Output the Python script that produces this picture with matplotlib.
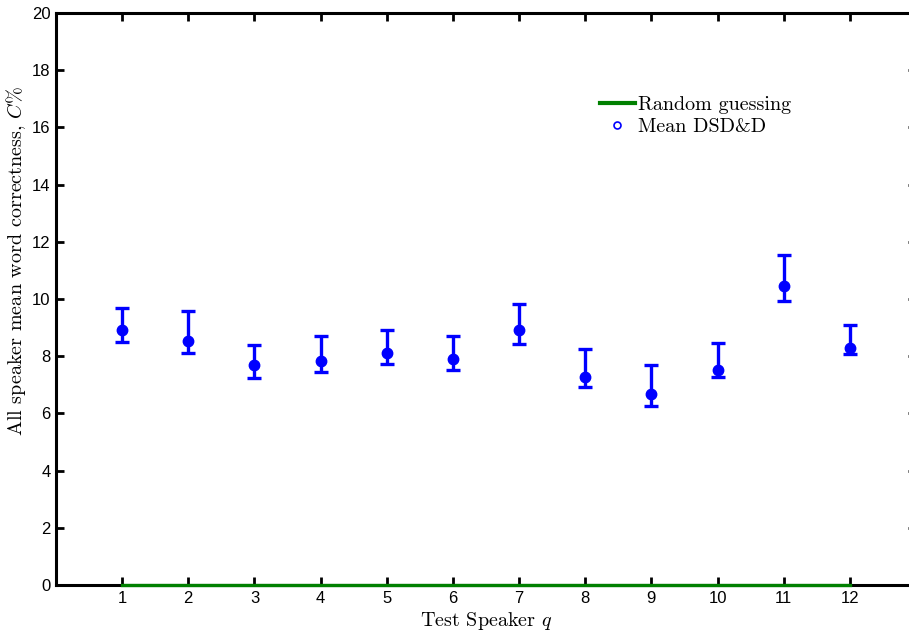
#!/usr/bin/env python3
"""Mean word correctness per test speaker, with error bars."""

import matplotlib

matplotlib.use("Agg")
import matplotlib.pyplot as plt
from matplotlib.lines import Line2D
import numpy as np

speakers = [1, 2, 3, 4, 5, 6, 7, 8, 9, 10, 11, 12]
mean_c = [8.92, 8.54, 7.69, 7.83, 8.10, 7.90, 8.92, 7.28, 6.68, 7.52, 10.47, 8.30]
upper_c = [9.70, 9.59, 8.40, 8.71, 8.92, 8.71, 9.84, 8.24, 7.68, 8.46, 11.53, 9.08]
lower_c = [8.50, 8.10, 7.23, 7.44, 7.72, 7.52, 8.43, 6.91, 6.26, 7.27, 9.94, 8.08]
random_guess = [0.0] * len(speakers)

plt.rcParams["mathtext.fontset"] = "cm"
plt.rcParams["axes.unicode_minus"] = False

fig = plt.figure(figsize=(9.09, 6.36), dpi=100)
ax = fig.add_axes([56 / 909, 51 / 636, 860 / 909, 572 / 636])

mean_arr = np.array(mean_c)
yerr = np.vstack([mean_arr - np.array(lower_c), np.array(upper_c) - mean_arr])

ax.plot(speakers, random_guess, color=(0, 0.5, 0), lw=2.4, zorder=3, clip_on=False)
ax.errorbar(speakers, mean_c, yerr=yerr, fmt="o", color="blue", ms=7.5,
            elinewidth=2.4, capsize=5, capthick=2.4, zorder=4)

ax.set_xlim(0, 13)
ax.set_ylim(0, 20)
ax.set_xticks(speakers)
ax.set_yticks(np.arange(0, 21, 2))

for side in ("left", "bottom", "top"):
    ax.spines[side].set_linewidth(2.2)
ax.spines["right"].set_visible(False)
ax.tick_params(direction="in", length=6, width=2, labelsize=12,
               top=True, right=True, pad=4)
for lab in ax.get_xticklabels() + ax.get_yticklabels():
    lab.set_fontfamily("Liberation Sans")

label_font = {"family": "cmr10", "size": 14.5}
ax.set_xlabel("Test Speaker $q$", fontdict=label_font, labelpad=3)
ax.set_ylabel("All speaker mean word correctness, $C\\%$", fontdict=label_font)
ax.yaxis.set_label_coords(-0.033, 0.566)

handles = [
    Line2D([], [], color=(0, 0.5, 0), lw=3),
    Line2D([], [], ls="none", marker="o", mfc="none", mec="blue", ms=5, mew=1.2),
]
ax.legend(handles, ["Random guessing", "Mean DSD&D"], frameon=False,
          loc="upper left", bbox_to_anchor=(0.633, 0.855), handlelength=1.7,
          handletextpad=0.15, labelspacing=0.2, borderaxespad=0,
          borderpad=0, prop={"family": "cmr10", "size": 14.5})

fig.savefig("out.png", dpi=100)
